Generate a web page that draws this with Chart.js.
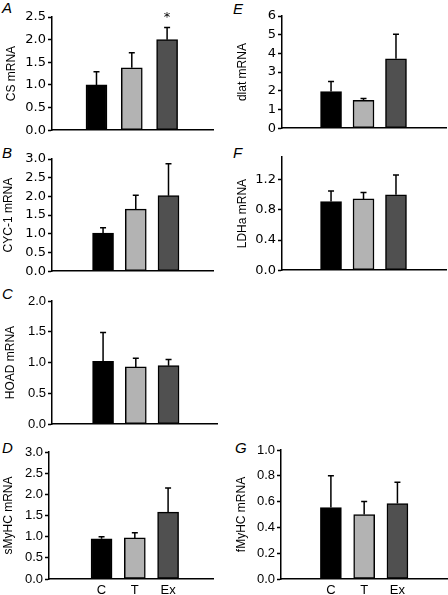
<!DOCTYPE html>
<html><head><meta charset="utf-8">
<script src="https://cdn.jsdelivr.net/npm/chart.js@4"></script>
<style>
body{margin:0;background:#fff;width:448px;height:595px;position:relative;overflow:hidden}
canvas{position:absolute}
.lt{position:absolute;font:italic 15px "Liberation Sans",Arial,sans-serif;line-height:15px;color:#000}
</style></head><body>
<div class="lt" style="left:2px;top:0px">A</div>
<div class="lt" style="left:2px;top:145px">B</div>
<div class="lt" style="left:2px;top:286px">C</div>
<div class="lt" style="left:2px;top:440px">D</div>
<div class="lt" style="left:233px;top:1px">E</div>
<div class="lt" style="left:233px;top:145px">F</div>
<div class="lt" style="left:235px;top:440px">G</div>
<script>
// groups + bar fills
const groups = ['C', 'T', 'Ex'];
const barColors = ['#000000', '#b3b3b3', '#505050'];

// A - CS
const csMean = [1.0, 1.38, 2.0];
const csSem = [0.29, 0.33, 0.27];
const csSig = ['', '', '*'];
const csTicks = [0, 0.5, 1.0, 1.5, 2.0, 2.5];
// B - CYC-1
const cycMean = [1.02, 1.66, 2.02];
const cycSem = [0.14, 0.37, 0.85];
const cycTicks = [0, 0.5, 1.0, 1.5, 2.0, 2.5, 3.0];
// C - HOAD
const hoadMean = [1.02, 0.93, 0.95];
const hoadSem = [0.47, 0.14, 0.10];
const hoadTicks = [0, 0.5, 1.0, 1.5, 2.0];
// D - sMyHC
const smyhcMean = [0.95, 0.97, 1.58];
const smyhcSem = [0.05, 0.12, 0.57];
const smyhcTicks = [0, 0.5, 1.0, 1.5, 2.0, 2.5, 3.0];
// E - dlat
const dlatMean = [1.96, 1.49, 3.71];
const dlatSem = [0.54, 0.10, 1.32];
const dlatTicks = [0, 1, 2, 3, 4, 5, 6];
// F - LDHa
const ldhMean = [0.91, 0.945, 1.0];
const ldhSem = [0.14, 0.085, 0.26];
const ldhTicks = [0, 0.4, 0.8, 1.2];
// G - fMyHC
const fmyhcMean = [0.554, 0.50, 0.585];
const fmyhcSem = [0.246, 0.10, 0.165];
const fmyhcTicks = [0, 0.2, 0.4, 0.6, 0.8, 1.0];

function errPlugin(p){
  return { id:'err'+p.id, afterDatasetsDraw(chart){
    const ctx = chart.ctx, ys = chart.scales.y;
    const bars = chart.getDatasetMeta(0).data;
    ctx.save();
    ctx.strokeStyle = '#000'; ctx.lineWidth = 1.5;
    bars.forEach((b,i)=>{
      const yt = ys.getPixelForValue(p.mean[i] + p.sem[i]);
      ctx.beginPath();
      ctx.moveTo(b.x, b.y); ctx.lineTo(b.x, yt);
      ctx.moveTo(b.x-3, yt); ctx.lineTo(b.x+3, yt);
      ctx.stroke();
      if(p.sig && p.sig[i]){
        ctx.fillStyle = '#000'; ctx.font = '13px "DejaVu Sans"';
        ctx.textAlign = 'center'; ctx.textBaseline = 'alphabetic';
        ctx.fillText(p.sig[i], b.x, yt-6);
      }
    });
    ctx.restore();
  }};
}

function makePanel(p){
  const cv = document.createElement('canvas');
  const top = p.plotTop - 10;
  const xh = p.showX ? 16 : 0;
  const padB = p.showX ? 0 : 8;
  cv.width = p.width; cv.height = p.plotBottom + xh + padB - top;
  cv.style.left = p.left + 'px'; cv.style.top = top + 'px';
  document.body.appendChild(cv);
  new Chart(cv, {
    type:'bar',
    data:{ datasets:[{ data:p.mean.map((v,i)=>({x:i, y:v})), backgroundColor:barColors,
      borderColor:'#000', borderWidth:1.5, borderSkipped:false, barThickness:21 }]},
    options:{
      responsive:false, animation:false, devicePixelRatio:1,
      layout:{ padding:{ top:10, bottom:padB, left:0, right:p.left + p.width - p.plotRight }},
      plugins:{ legend:{display:false}, tooltip:{enabled:false} },
      scales:{
        x:{ type:'linear', offset:false, min:p.xmin, max:p.xmax,
          grid:{display:false, drawTicks:false}, border:{display:true, color:'#000', width:1.5},
          ticks:{ display:p.showX, padding:4, color:'#000', font:{family:'Liberation Sans', size:13},
            callback:v=>groups[v] || '' },
          afterBuildTicks:s=>{ s.ticks = groups.map((g,i)=>({value:i})); },
          afterFit:s=>{ s.height = xh; } },
        y:{ min:0, max:p.max,
          grid:{display:true, drawOnChartArea:false, drawTicks:true, tickLength:4, tickColor:'#000', tickWidth:1.5},
          border:{display:true, color:'#000', width:1.5},
          ticks:{ color:'#000', padding:2, font:{family:p.font, size:p.fs}, callback:v=>v.toFixed(p.dec) },
          afterBuildTicks:s=>{ s.ticks = p.ticks.map(v=>({value:v})); },
          title:{ display:true, text:p.title, color:'#000', font:{family:'Liberation Sans', size:12},
            padding:{top:p.titleX - p.left - 7.2, bottom:0} },
          afterFit:s=>{ s.width = p.axisX - p.left; } }
      }
    },
    plugins:[errPlugin(p)]
  });
}

const L = {left:0, width:224};
const R = {left:226, width:222};
makePanel({...L, id:'A', title:'CS mRNA', mean:csMean, sem:csSem, sig:csSig, ticks:csTicks, max:2.5, dec:1,
  axisX:52, plotTop:17, plotBottom:132, plotRight:213, xmin:-1.26, xmax:3.30, titleX:12, font:'DejaVu Sans', fs:13});
makePanel({...L, id:'B', title:'CYC-1 mRNA', mean:cycMean, sem:cycSem, ticks:cycTicks, max:3.0, dec:1,
  axisX:52, plotTop:159, plotBottom:273, plotRight:213, xmin:-1.56, xmax:3.36, titleX:8.5, font:'DejaVu Sans', fs:13});
makePanel({...L, id:'C', title:'HOAD mRNA', mean:hoadMean, sem:hoadSem, ticks:hoadTicks, max:2.0, dec:1,
  axisX:52, plotTop:301, plotBottom:426, plotRight:217, xmin:-1.56, xmax:3.48, titleX:10.5, font:'Liberation Sans', fs:13});
makePanel({...L, id:'D', title:'sMyHC mRNA', mean:smyhcMean, sem:smyhcSem, ticks:smyhcTicks, max:3.0, dec:1,
  axisX:49, plotTop:452, plotBottom:579, plotRight:213, xmin:-1.58, xmax:3.35, titleX:9, font:'Liberation Sans', fs:13, showX:true});
makePanel({...R, id:'E', title:'dlat mRNA', mean:dlatMean, sem:dlatSem, ticks:dlatTicks, max:6, dec:0,
  axisX:282, plotTop:16, plotBottom:130, plotRight:446, xmin:-1.51, xmax:3.54, titleX:243, font:'DejaVu Sans', fs:13});
makePanel({...R, id:'F', title:'LDHa mRNA', mean:ldhMean, sem:ldhSem, ticks:ldhTicks, max:1.5, dec:1,
  axisX:282, plotTop:157, plotBottom:272, plotRight:446, xmin:-1.51, xmax:3.54, titleX:243, font:'DejaVu Sans', fs:13});
makePanel({...R, id:'G', title:'fMyHC mRNA', mean:fmyhcMean, sem:fmyhcSem, ticks:fmyhcTicks, max:1.0, dec:1,
  axisX:281, plotTop:450, plotBottom:579, plotRight:448, xmin:-1.5, xmax:3.52, titleX:242, font:'Liberation Sans', fs:13, showX:true});
</script>
</body></html>
